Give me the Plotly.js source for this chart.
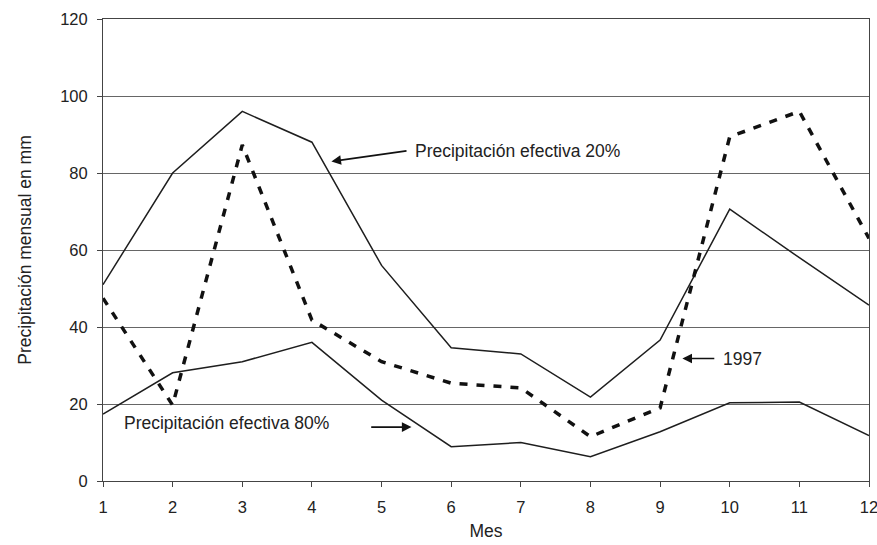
<!DOCTYPE html>
<html><head><meta charset="utf-8">
<script src="https://cdn.plot.ly/plotly-3.0.1.min.js"></script>
<style>body{margin:0;background:#fff}#c{width:877px;height:545px}</style>
</head><body><div id="c"></div>
<script>
const meses = [1,2,3,4,5,6,7,8,9,10,11,12];
const efectiva20 = [51,80,96,88,56,34.6,33,21.8,36.6,70.6,58,45.7];
const efectiva80 = [17.4,28.1,31,36,21,8.9,10,6.3,12.8,20.3,20.5,11.8];
const anio1997 = [47.5,19.7,87.3,41.8,31,25.4,24.2,11.5,19,89.4,96,63];
const yTicks = [0,20,40,60,80,100,120];

const lineCol = '#1e1e1e';
const traces = [
  {x: meses, y: efectiva20, mode:'lines', line:{color:lineCol, width:1.5}, name:'Precipitación efectiva 20%'},
  {x: meses, y: efectiva80, mode:'lines', line:{color:lineCol, width:1.5}, name:'Precipitación efectiva 80%'},
  {x: meses, y: anio1997, mode:'lines', line:{color:'#111', width:3.5, dash:'8px,9px'}, name:'1997'}
];
const tickFont = {family:'Liberation Sans, Arial, sans-serif', size:16.5, color:'#222'};
const font = {family:'Liberation Sans, Arial, sans-serif', size:17.5, color:'#222'};
const arrow = (x, y, ax, ay) => ({x, y, ax, ay, xref:'x', yref:'y', axref:'x', ayref:'y', text:'', showarrow:true, arrowhead:2, arrowsize:1.2, arrowwidth:1.6, arrowcolor:'#111'});
const label = (x, y, t) => ({x, y, xref:'x', yref:'y', text:t, showarrow:false, xanchor:'left', yanchor:'middle', font:font});
const layout = {
  width:877, height:545,
  margin:{l:103, r:8, t:19, b:64},
  paper_bgcolor:'#fff', plot_bgcolor:'#fff',
  showlegend:false,
  font:font,
  xaxis:{range:[1,12], tickvals:meses, ticks:'outside', ticklen:5, tickcolor:'#444', tickfont:tickFont, ticklabelstandoff:6, ticklabeloverflow:'allow',
    showline:true, linecolor:'#444', linewidth:1, mirror:true, showgrid:false, zeroline:false,
    title:{text:'Mes', font:font, standoff:9}},
  yaxis:{range:[0,120], tickvals:yTicks, ticks:'outside', ticklen:5, tickcolor:'#444', tickfont:tickFont, ticklabelstandoff:6,
    showline:true, linecolor:'#444', linewidth:1, mirror:true, showgrid:true, gridcolor:'#666', gridwidth:1, zeroline:false,
    title:{text:'Precipitación mensual en mm', font:font, standoff:24}},
  annotations:[
    arrow(4.28, 83, 5.38, 85.8),
    label(5.45, 85.8, 'Precipitación efectiva 20%'),
    arrow(5.43, 14, 4.83, 14),
    label(1.27, 15.1, 'Precipitación efectiva 80%'),
    arrow(9.32, 31.8, 9.8, 31.8),
    label(9.88, 31.6, '1997')
  ]
};
Plotly.newPlot('c', traces, layout, {staticPlot:true});
</script></body></html>
